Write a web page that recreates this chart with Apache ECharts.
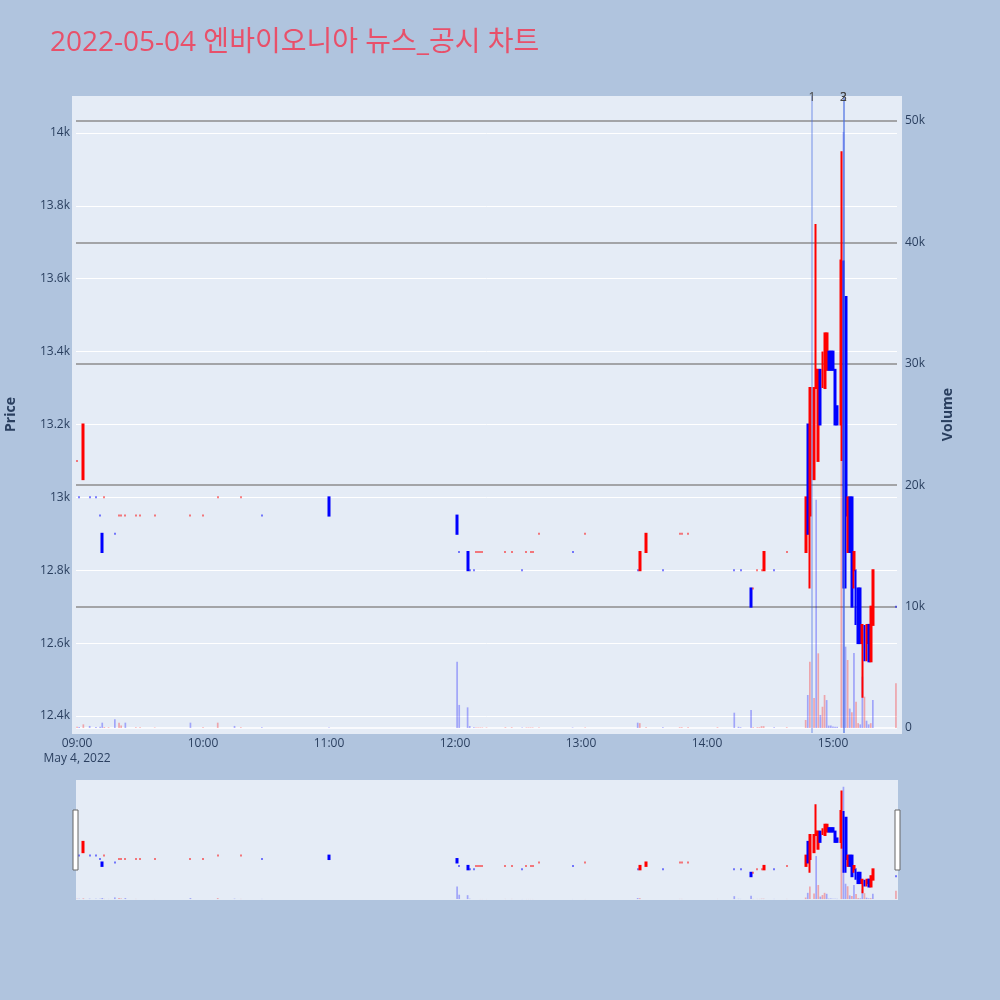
<!DOCTYPE html>
<html><head><meta charset="utf-8">
<script src="https://cdn.jsdelivr.net/npm/echarts@6/dist/echarts.min.js"></script>
<style>html,body{margin:0;padding:0;background:#B0C4DE}#c{width:1000px;height:1000px}</style>
</head><body><div id="c"></div>
<script>
// ---- data ----
const times  = ['09:00','09:01','09:03','09:06','09:09','09:11','09:12','09:13','09:15','09:18','09:20','09:21','09:23','09:28','09:30','09:37','09:54','10:00','10:07','10:15','10:18','10:28','11:00',
 '12:01','12:02','12:06','12:07','12:09','12:10','12:11','12:12','12:13','12:15','12:24','12:27','12:32','12:34','12:35','12:36','12:37','12:40','12:56','13:02','13:27','13:28','13:31','13:39','13:47','13:48','13:51','14:05','14:13','14:15','14:16','14:21','14:22','14:24','14:25','14:26','14:27','14:32','14:38',
 '14:47','14:48','14:49','14:51','14:52','14:53','14:54','14:55','14:56','14:57','14:58','14:59','15:00','15:01','15:02',
 '15:04','15:05','15:06','15:07','15:08','15:09','15:10','15:11','15:12','15:13','15:14','15:15','15:16','15:17','15:18','15:19','15:30'];
const opens  = [13100,13000,13050,13000,13000,12950,12900,13000,13000,12900,12950,12950,12950,12950,12950,12950,12950,12950,13000,13000,13000,12950,13000,
 12950,12850,12850,12800,12800,12850,12850,12850,12850,12850,12850,12850,12800,12850,12850,12850,12850,12900,12850,12900,12800,12800,12850,12800,12900,12900,12900,12900,12800,12800,12800,12750,12750,12800,12800,12800,12800,12800,12850,
 12850,13200,12950,13050,13300,13100,13350,13300,13300,13350,13400,13400,13400,13350,13250,
 13200,13650,13550,12850,13000,13000,12800,12800,12750,12750,12600,12650,12600,12650,12550,12650,12700];
const highs  = [13100,13000,13200,13000,13000,12950,12900,13000,13000,12900,12950,12950,12950,12950,12950,12950,12950,12950,13000,13000,13000,12950,13000,
 12950,12850,12850,12800,12800,12850,12850,12850,12850,12850,12850,12850,12800,12850,12850,12850,12850,12900,12850,12900,12800,12850,12900,12800,12900,12900,12900,12900,12800,12800,12800,12750,12750,12800,12800,12800,12850,12800,12850,
 13000,13200,13300,13300,13750,13350,13350,13400,13450,13450,13400,13400,13400,13350,13250,
 13950,13650,13550,13000,13000,13000,12850,12800,12750,12750,12650,12650,12650,12650,12700,12800,12700];
const lows   = [13100,13000,13050,13000,13000,12950,12850,13000,13000,12900,12950,12950,12950,12950,12950,12950,12950,12950,13000,13000,13000,12950,12950,
 12900,12850,12800,12800,12800,12850,12850,12850,12850,12850,12850,12850,12800,12850,12850,12850,12850,12900,12850,12900,12800,12800,12850,12800,12900,12900,12900,12900,12800,12800,12800,12700,12750,12800,12800,12800,12800,12800,12850,
 12850,12900,12750,13050,13300,13100,13200,13300,13300,13350,13350,13350,13350,13200,13200,
 13100,12750,12750,12850,12850,12700,12750,12650,12600,12600,12450,12550,12550,12550,12550,12650,12700];
const closes = [13100,13000,13200,13000,13000,12950,12850,13000,13000,12900,12950,12950,12950,12950,12950,12950,12950,12950,13000,13000,13000,12950,12950,
 12900,12850,12800,12800,12800,12850,12850,12850,12850,12850,12850,12850,12800,12850,12850,12850,12850,12900,12850,12900,12800,12850,12900,12800,12900,12900,12900,12900,12800,12800,12800,12700,12750,12800,12800,12800,12850,12800,12850,
 13000,12900,13300,13300,13350,13350,13200,13400,13450,13450,13350,13350,13350,13200,13200,
 13650,13050,12950,13000,12850,12700,12850,12800,12600,12600,12650,12550,12650,12550,12700,12800,12700];
const volumes= [100,80,300,170,80,100,440,80,60,720,440,200,440,60,60,40,440,60,440,170,60,60,50,
 5460,1900,1700,160,60,40,40,40,40,40,60,60,40,40,40,40,40,40,40,40,440,400,60,60,60,60,60,60,1260,100,60,1480,60,60,60,150,150,60,60,
 660,2720,5460,2470,18800,6150,1070,1750,2720,2300,200,200,130,100,100,
 22000,49100,6700,5600,1600,1300,6180,2170,400,300,4230,2580,600,300,400,2300,3680];
// 1 = buy-side (red) volume, -1 = sell-side (blue) volume
const volumeSide = [1,-1,1,-1,-1,-1,-1,1,1,-1,1,1,-1,1,1,1,-1,1,1,-1,1,-1,-1,
 -1,-1,-1,-1,-1,1,1,1,1,1,1,1,-1,1,1,1,1,1,-1,1,-1,1,1,-1,1,1,1,1,-1,-1,-1,-1,1,1,1,1,1,-1,1,
 1,-1,1,1,-1,1,-1,1,1,-1,-1,-1,-1,-1,-1,
 1,-1,-1,1,-1,1,-1,1,1,-1,-1,1,-1,-1,1,-1,1];
const newsTimes  = ['14:50','15:05','15:05'];
const newsLabels = ['1','2','3'];
const priceTicks  = [12400,12600,12800,13000,13200,13400,13600,13800,14000];
const volumeTicks = [0,10000,20000,30000,40000,50000];
const titleText = '2022-05-04 엔바이오니아 뉴스_공시 차트';

// ---- build ----
const pad = n => (n < 10 ? '0' : '') + n;
const cats = [];
for (let m = 0; m <= 390; m++) cats.push(pad(9 + Math.floor(m / 60)) + ':' + pad(m % 60));

const UP = '#ff0000', DOWN = '#0000ff';
const dirs = [];
for (let i = 0; i < times.length; i++) {
  let d;
  if (closes[i] > opens[i]) d = 1;
  else if (closes[i] < opens[i]) d = -1;
  else if (i === 0) d = 1;
  else d = closes[i] > closes[i-1] ? 1 : (closes[i] < closes[i-1] ? -1 : dirs[i-1]);
  dirs.push(d);
}
const candleData = times.map((t, i) => {
  const c = dirs[i] > 0 ? UP : DOWN;
  return { value: [t, opens[i], closes[i], lows[i], highs[i]],
           itemStyle: { color: c, color0: c, borderColor: c, borderColor0: c } };
});
const volData = times.map((t, i) => ({ value: [t, volumes[i]],
  itemStyle: { color: volumeSide[i] > 0 ? 'rgba(255,0,0,0.3)' : 'rgba(0,0,255,0.3)' } }));

const PMIN = 12353.3, PMAX = 14101.5, VMIN = -412, VMAX = 52059;
const FONT = "'Open Sans', 'Noto Sans CJK KR', sans-serif";
const TXT = '#2a3f5f';

const chart = echarts.init(document.getElementById('c'), null, { renderer: 'canvas' });
chart.setOption({
  backgroundColor: '#B0C4DE',
  animation: false,
  title: { text: titleText, left: 50, top: 29, padding: 0,
    textStyle: { color: '#E8506A', fontSize: 28, fontWeight: 'normal', fontFamily: FONT } },
  graphic: [
    { type: 'rect', z: -10, shape: { x: 72, y: 96, width: 830, height: 638 }, style: { fill: '#E5ECF6' }, silent: true },
    { type: 'rect', z: -10, shape: { x: 76, y: 780, width: 822, height: 120 }, style: { fill: '#E5ECF6' }, silent: true },
    { type: 'rect', z: 100, shape: { x: 73, y: 810, width: 5, height: 60 }, style: { fill: '#fff', stroke: '#666', lineWidth: 1 }, silent: true },
    { type: 'rect', z: 100, shape: { x: 895, y: 810, width: 5, height: 60 }, style: { fill: '#fff', stroke: '#666', lineWidth: 1 }, silent: true }
  ],
  grid: [
    { left: 76, top: 96, width: 821, height: 637, outerBoundsMode: 'none', containLabel: false },
    { left: 76, top: 780, width: 821, height: 120, outerBoundsMode: 'none', containLabel: false }
  ],
  xAxis: [
    { type: 'category', gridIndex: 0, data: cats, boundaryGap: true,
      axisLine: { show: false }, axisTick: { show: false }, splitLine: { show: false },
      axisLabel: { interval: (i) => i % 60 === 0, color: TXT, fontSize: 12, fontFamily: FONT, margin: 3, lineHeight: 15,
        formatter: (v, i) => i === 0 ? v + '\nMay 4, 2022' : v } },
    { type: 'category', gridIndex: 1, data: cats, boundaryGap: true, show: false }
  ],
  yAxis: [
    { type: 'value', gridIndex: 0, min: PMIN, max: PMAX, position: 'left',
      name: 'Price', nameLocation: 'middle', nameRotate: 90, nameGap: 58,
      nameTextStyle: { color: TXT, fontSize: 14, fontFamily: FONT, fontWeight: 'bold' },
      axisLine: { show: false },
      axisTick: { show: false, customValues: priceTicks },
      axisLabel: { customValues: priceTicks, color: TXT, fontSize: 12, fontFamily: FONT, margin: 6,
        formatter: v => (v / 1000) + 'k' },
      splitLine: { show: true, lineStyle: { color: '#ffffff', width: 1 } } },
    { type: 'value', gridIndex: 0, min: VMIN, max: VMAX, position: 'right',
      name: 'Volume', nameLocation: 'middle', nameRotate: 90, nameGap: 44,
      nameTextStyle: { color: TXT, fontSize: 14, fontFamily: FONT, fontWeight: 'bold' },
      axisLine: { show: false },
      axisTick: { show: false, customValues: volumeTicks },
      axisLabel: { customValues: volumeTicks, color: TXT, fontSize: 12, fontFamily: FONT, margin: 8,
        formatter: v => v === 0 ? '0' : (v / 1000) + 'k' },
      splitLine: { show: true, lineStyle: { color: ['#ffffff', '#8c8c8c', '#8c8c8c', '#8c8c8c', '#8c8c8c', '#8c8c8c'], width: 1.5 } } },
    { type: 'value', gridIndex: 1, min: PMIN, max: PMAX, show: false, splitLine: { show: false } },
    { type: 'value', gridIndex: 1, min: VMIN, max: VMAX, show: false, splitLine: { show: false } }
  ],
  series: [
    { type: 'bar', name: 'Volume', xAxisIndex: 0, yAxisIndex: 1, data: volData, barWidth: 1.7,
      encode: { x: 0, y: 1 }, z: 1 },
    { type: 'candlestick', name: 'Price', xAxisIndex: 0, yAxisIndex: 0, data: candleData,
      encode: { x: 0, y: [1, 2, 3, 4] }, barWidth: 1.4, z: 3,
      itemStyle: { color: UP, color0: DOWN, borderColor: UP, borderColor0: DOWN, borderWidth: 2 },
      markLine: { silent: true, symbol: ['none', 'none'], animation: false,
        lineStyle: { type: 'solid', color: 'rgba(65,105,225,0.35)', width: 2 },
        label: { show: true, position: 'end', distance: -8, color: '#444', fontSize: 12, fontFamily: FONT },
        data: newsTimes.map((t, i) => ({ xAxis: t, label: { formatter: newsLabels[i] } })) } },
    { type: 'bar', xAxisIndex: 1, yAxisIndex: 3, data: volData, barWidth: 1.7, encode: { x: 0, y: 1 }, z: 1 },
    { type: 'candlestick', xAxisIndex: 1, yAxisIndex: 2, data: candleData, encode: { x: 0, y: [1, 2, 3, 4] },
      barWidth: 1.4, z: 3,
      itemStyle: { color: UP, color0: DOWN, borderColor: UP, borderColor0: DOWN, borderWidth: 2 } }
  ]
});
</script>
</body></html>
